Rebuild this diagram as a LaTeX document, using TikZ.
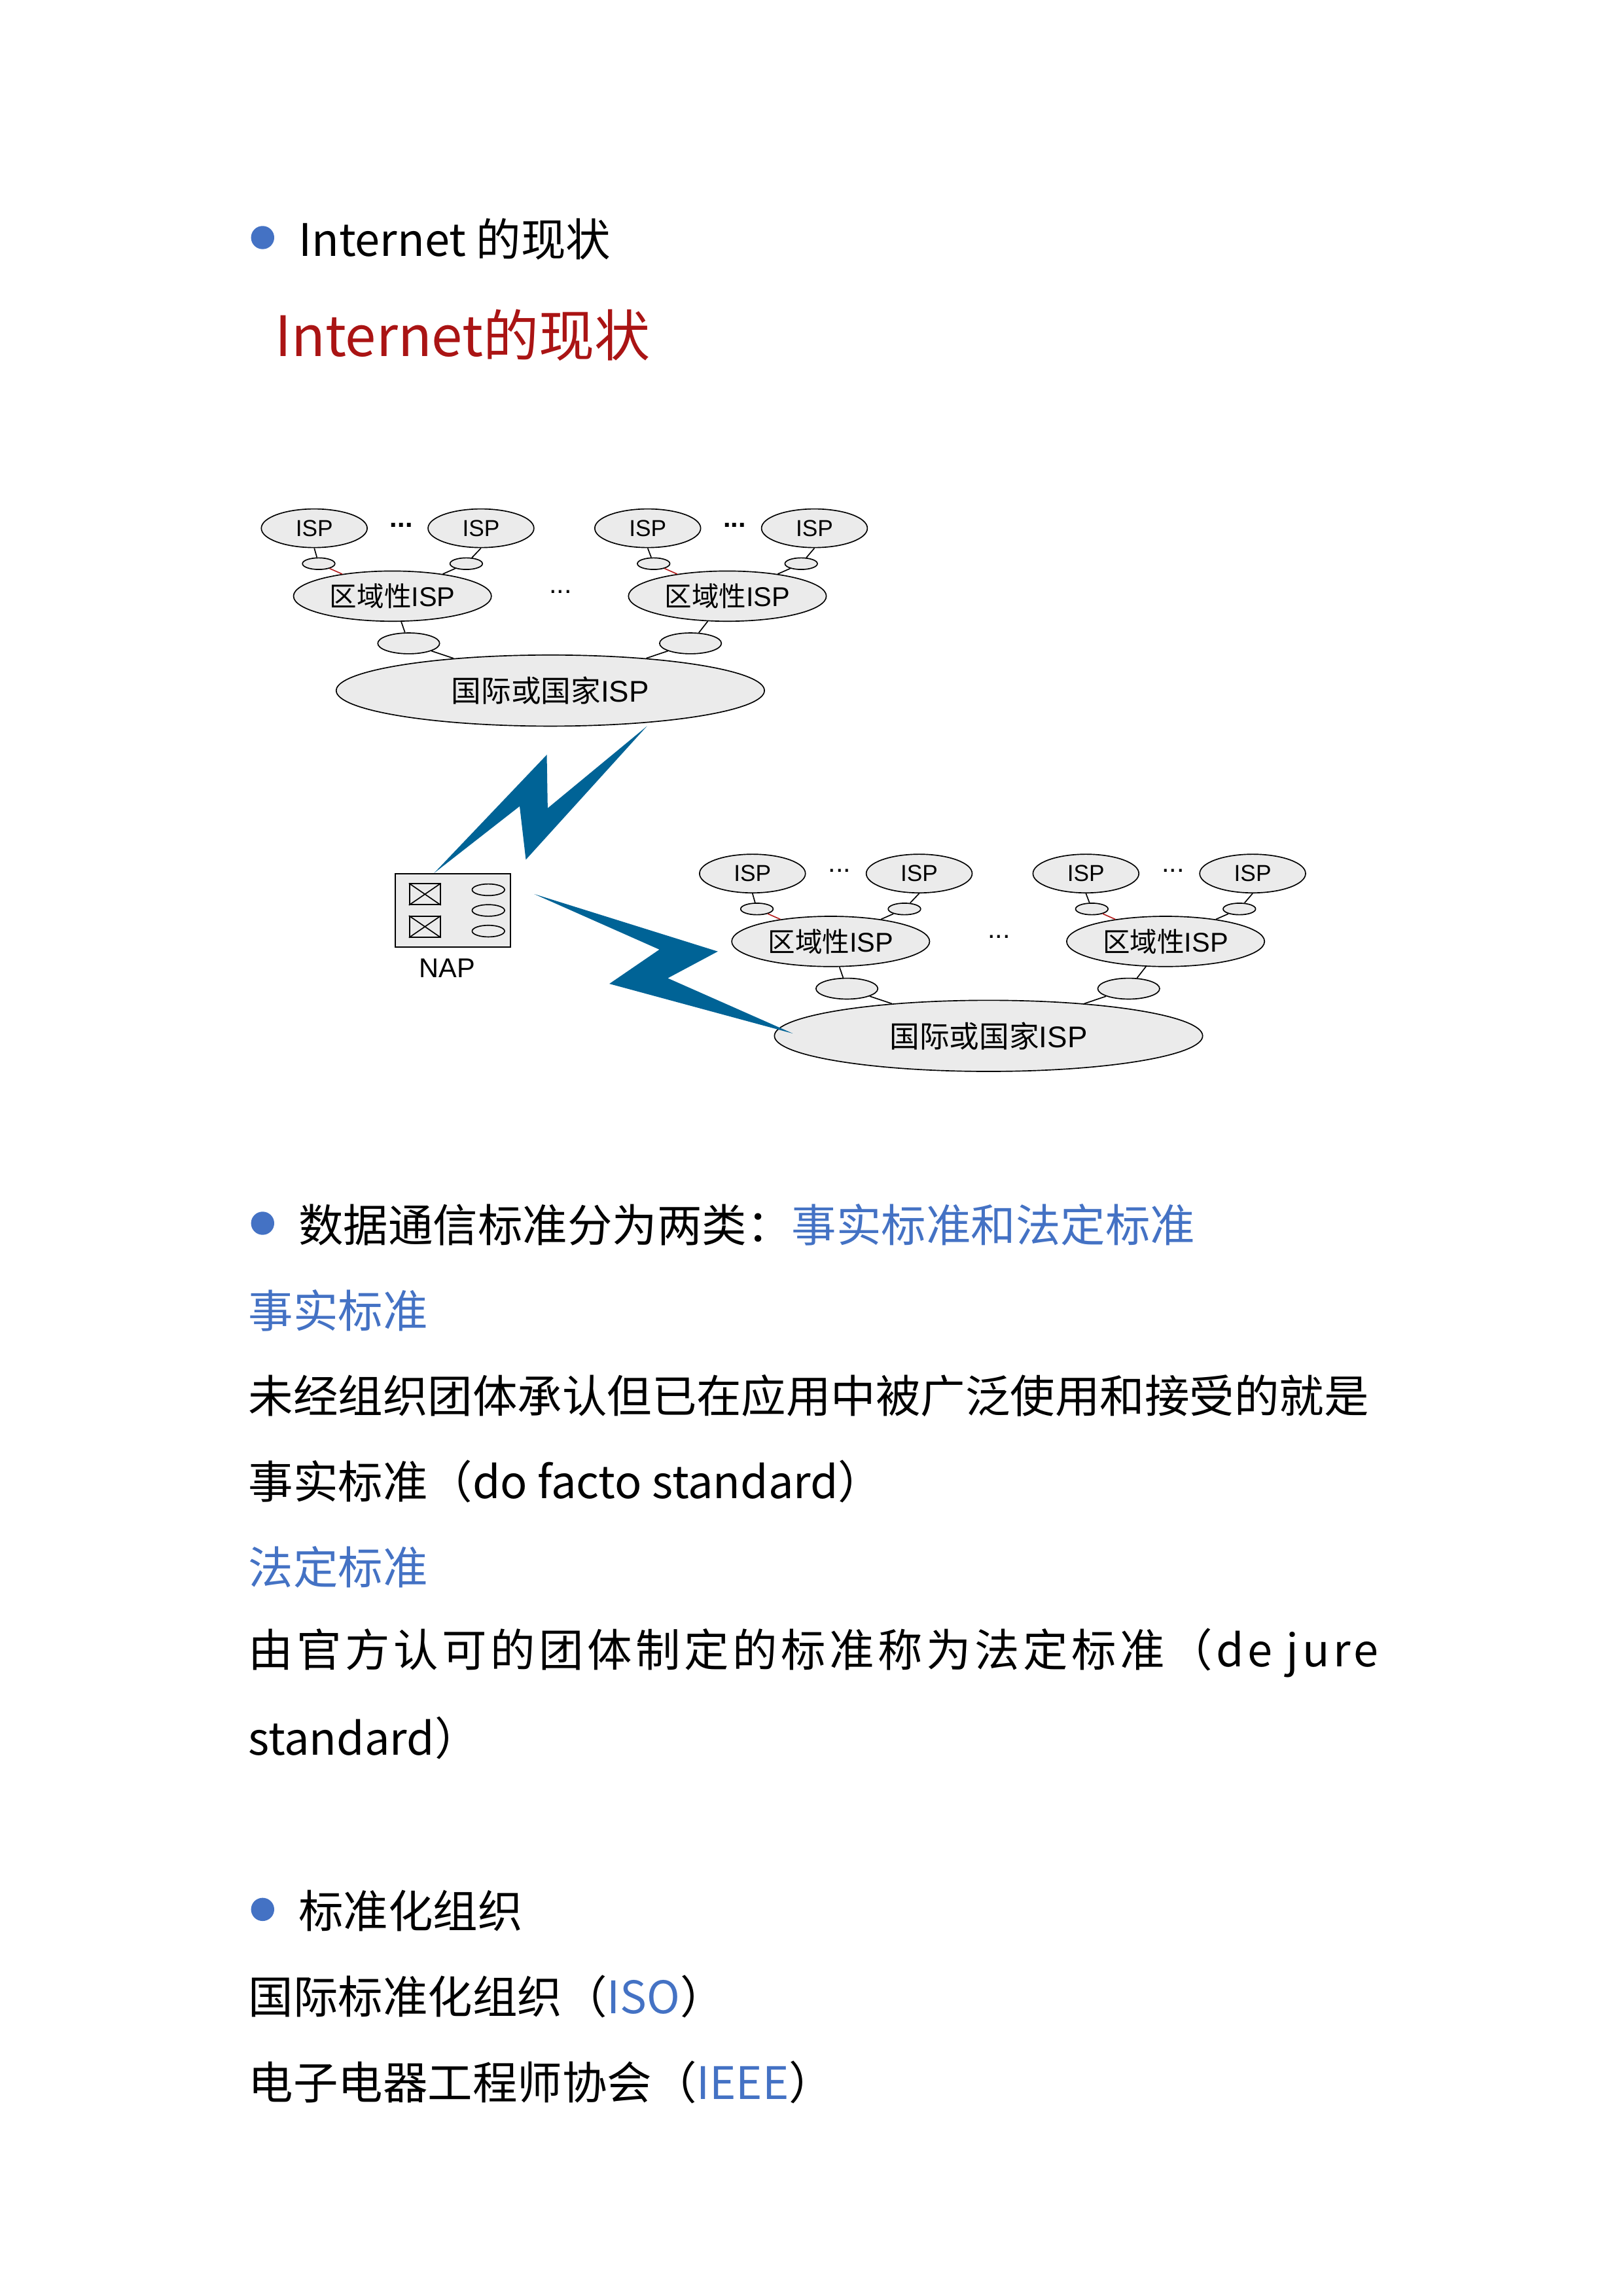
\documentclass[tikz,border=0pt]{standalone}
\usepackage{fontspec}
\setmainfont{Noto Sans CJK SC}
\newfontfamily\lib{Liberation Sans}
\newfontfamily\cjk{Noto Sans CJK SC}
\usetikzlibrary{shapes.geometric}
\definecolor{titred}{RGB}{170,20,20}
\definecolor{stdblue}{RGB}{68,114,196}
\definecolor{bolt}{RGB}{0,99,150}
\definecolor{ispgray}{RGB}{235,235,235}
\definecolor{linkred}{RGB}{180,30,30}

\tikzset{
  isp/.style={ellipse,draw,fill=ispgray,inner sep=0pt,minimum width=1.37cm,minimum height=0.5cm,font=\lib\fontsize{8.5}{9}\selectfont},
  plug/.style={ellipse,draw,fill=ispgray,inner sep=0pt,minimum width=0.42cm,minimum height=0.15cm},
  region/.style={ellipse,draw,fill=ispgray,inner sep=0pt,minimum width=2.56cm,minimum height=0.65cm,font=\lib\fontsize{10}{11}\selectfont},
  joint/.style={ellipse,draw,fill=ispgray,inner sep=0pt,minimum width=0.8cm,minimum height=0.27cm},
  nation/.style={ellipse,draw,fill=ispgray,inner sep=0pt,minimum width=5.54cm,minimum height=0.92cm,font=\lib\fontsize{11}{12}\selectfont},
  line/.style={anchor=west,inner sep=0pt,font=\fontsize{16.5}{18}\selectfont},
  dot/.style={circle,fill=stdblue,inner sep=0pt,minimum size=0.3cm}
}

\begin{document}
\begin{tikzpicture}[x=0.01909cm,y=-0.01909cm,thin]
    \useasboundingbox (0,0) rectangle (1100,1556);

    % heading
    \node[dot] (b1) at (178,161) {};
    \node[line] (h1) at (202,162) {Internet 的现状};
    \node[line,text=titred,font=\fontsize{20.5}{24}\selectfont] (title) at (186,227) {Internet的现状};

    % two ISP trees
    \foreach \g/\sx/\sy/\df in {a/0/0/\bfseries,b/297/234/\mdseries}{
    \begin{scope}[shift={(\sx,\sy)}]
    \node[isp] (\g i1) at (213,358) {ISP};
    \node[isp] (\g i2) at (326,358) {ISP};
    \node[isp] (\g i3) at (439,358) {ISP};
    \node[isp] (\g i4) at (552,358) {ISP};
    \node[font=\lib\df] (\g d1) at (272,356) {...};
    \node[font=\lib\df] (\g d2) at (498,356) {...};
    \node[font=\lib] (\g d3) at (380,401) {...};
    \node[plug] (\g s1) at (216,382) {};
    \node[plug] (\g s2) at (316,382) {};
    \node[plug] (\g s3) at (443,382) {};
    \node[plug] (\g s4) at (543,382) {};
    \node[region] (\g r1) at (266,404) {{\cjk 区域性}ISP};
    \node[region] (\g r2) at (493,404) {{\cjk 区域性}ISP};
    \node[joint] (\g j1) at (277,436) {};
    \node[joint] (\g j2) at (468,436) {};
    \node[nation] (\g n) at (373,468) {{\cjk 国际或国家}ISP};
    \draw (\g i1.south) -- (\g s1);
    \draw (\g i2.south) -- (\g s2);
    \draw (\g i3.south) -- (\g s3);
    \draw (\g i4.south) -- (\g s4);
    \draw[linkred] (\g s1) -- (\g r1);
    \draw (\g s2) -- (\g r1);
    \draw[linkred] (\g s3) -- (\g r2);
    \draw (\g s4) -- (\g r2);
    \draw (\g r1) -- (\g j1) -- (\g n);
    \draw (\g r2) -- (\g j2) -- (\g n);
    \end{scope}
    }

    % NAP
    \node[draw,fill=ispgray,minimum width=1.49cm,minimum height=0.95cm,inner sep=0pt] (nap) at (307,617) {};
    \foreach \k/\yy in {1/606,2/628}{
      \node[draw,minimum width=0.4cm,minimum height=0.27cm,inner sep=0pt] (x\k) at (288,\yy) {};
      \draw (x\k.north west) -- (x\k.south east) (x\k.north east) -- (x\k.south west);
    }
    \foreach \k/\yy in {1/603,2/617,3/631}
      \node[plug] (p\k) at (331,\yy) {};
    \node[font=\lib\fontsize{10}{11}\selectfont] (naplbl) at (303,656) {NAP};

    % links
    \fill[bolt] (294.2,591.7) -- (370.6,511.5) -- (371.2,547.7) -- (438.5,492.1)
        -- (356.4,582.6) -- (352.2,546.4) -- cycle;
    \fill[bolt] (362.1,605.9) -- (486.5,644.8) -- (452.6,662.9) -- (537.4,700.4)
        -- (413.0,666.7) -- (446.9,643.5) -- cycle;

    % standards
    \node[dot] (b2) at (178,829) {};
    \node[line] (t1) at (202,830) {数据通信标准分为两类：\textcolor{stdblue}{事实标准和法定标准}};
    \node[line,text=stdblue] (t2) at (168,888) {事实标准};
    \node[line] (t3) at (168,946) {未经组织团体承认但已在应用中被广泛使用和接受的就是};
    \node[line] (t4) at (168,1004) {事实标准（do facto standard）};
    \node[line,text=stdblue] (t5) at (168,1062) {法定标准};
    \node[line] (t6) at (168,1120) {\addfontfeature{LetterSpace=8}由官方认可的团体制定的标准称为法定标准（de jure};
    \node[line] (t7) at (168,1178) {standard）};

    % organisations
    \node[dot] (b3) at (178,1294) {};
    \node[line] (t8) at (202,1295) {标准化组织};
    \node[line] (t9) at (168,1353) {国际标准化组织（\textcolor{stdblue}{ISO}）};
    \node[line] (t10) at (168,1411) {电子电器工程师协会（\textcolor{stdblue}{IEEE}）};
\end{tikzpicture}
\end{document}
